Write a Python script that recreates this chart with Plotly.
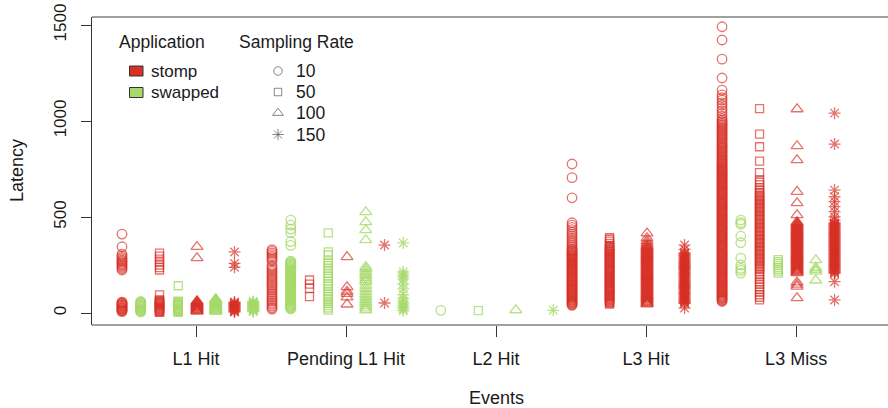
import plotly.graph_objects as go

# ---------------- data (latency values) ----------------
EVENTS = ["L1 Hit", "Pending L1 Hit", "L2 Hit", "L3 Hit", "L3 Miss"]
APPS = ["stomp", "swapped"]
RATES = [10, 50, 100, 150]

# each list: values for sampling rate 10, 50, 100, 150
L1_STOMP = [
    [411, 345, 307, 298, 290, 283, 276, 270, 264, 257, 251, 245, 238, 231, 224,
     57, 54, 51, 47, 44, 41, 37, 34, 31, 27, 24, 21, 17, 14, 11, 7],
    [312, 296, 281, 265, 250, 236, 224, 94, 68, 65, 62, 58, 55, 51, 48, 44, 41, 37,
     34, 30, 27, 23, 20, 16, 13, 9, 6, 3],
    [345, 286, 62, 59, 55, 52, 48, 45, 41, 38, 34, 31, 27, 24, 20, 17, 13, 10, 8],
    [318, 258, 238, 57, 54, 50, 47, 43, 40, 36, 33, 29, 26, 22, 19, 15, 12, 8, 5],
]
L1_SWAPPED = [
    [60, 57, 53, 50, 46, 43, 39, 36, 32, 29, 25, 22, 18, 15, 11, 8, 6],
    [142, 62, 59, 55, 52, 48, 45, 41, 38, 34, 31, 27, 24, 20, 17, 13, 10, 7, 4],
    [73, 70, 66, 63, 59, 56, 52, 49, 45, 42, 38, 35, 31, 28, 24, 21, 17, 14, 10, 7],
    [60, 57, 53, 50, 46, 43, 39, 36, 32, 29, 25, 22, 18, 15, 11, 7],
]
PEND_STOMP = [
    [330, 322, 313, 305, 296, 288, 279, 270, 247, 238, 228, 219, 210, 200, 190, 181,
     172, 163, 154, 145, 136, 127, 118, 108, 99, 90, 81, 72, 63, 54, 45, 36, 27, 20],
    [172, 150, 128, 85],
    [292, 135, 112, 100, 82, 45],
    [354, 52],
]
PEND_SWAPPED = [
    [484, 458, 437, 418, 372, 352, 270, 266, 261, 257, 253, 249, 245, 241, 237, 232,
     228, 224, 220, 216, 212, 207, 203, 199, 195, 191, 187, 183, 178, 174, 170, 166,
     162, 158, 153, 149, 145, 141, 137, 133, 129, 124, 120, 116, 112, 108, 104, 99,
     95, 91, 87, 83, 79, 75, 70, 66, 62, 58, 54, 50, 45, 41, 37, 33, 29, 25, 21],
    [417, 318, 302, 272, 258, 246, 233, 221, 206, 192, 180, 166, 152, 139, 126, 112,
     99, 86, 73, 61, 49, 38, 26, 15],
    [526, 474, 432, 380, 240, 230, 218, 206, 196, 184, 172, 161, 143, 127, 112, 97,
     83, 70, 58, 47, 36, 25, 15],
    [365, 214, 202, 190, 176, 152, 126, 96, 76, 63, 51, 41, 31, 21, 12],
]
L2_STOMP = [[], [], [], []]
L2_SWAPPED = [[14], [12], [15], [14]]
L3H_STOMP = [
    [776, 705, 600, 470, 458, 446, 434, 422, 411, 400, 390, 380, 370, 361, 352, 343,
     334, 330, 325, 321, 317, 312, 308, 303, 299, 295, 290, 286, 281, 277, 273, 268,
     264, 259, 255, 251, 246, 242, 237, 233, 229, 224, 220, 215, 211, 207, 202, 198,
     193, 189, 185, 180, 176, 171, 167, 163, 158, 154, 149, 145, 141, 136, 132, 127,
     123, 119, 114, 110, 105, 101, 97, 92, 88, 83, 79, 75, 70, 66, 61, 57, 53, 48,
     44, 40],
    [392, 384, 374, 363, 352, 348, 343, 339, 334, 330, 325, 321, 316, 312, 307, 303,
     298, 294, 289, 285, 280, 276, 271, 267, 262, 258, 253, 249, 244, 240, 235, 231,
     226, 222, 217, 213, 208, 204, 199, 195, 190, 186, 181, 177, 172, 168, 163, 159,
     154, 150, 145, 141, 136, 132, 127, 123, 118, 114, 109, 105, 100, 96, 91, 87, 82,
     78, 73, 69, 64, 60, 55, 51, 47],
    [415, 390, 376, 366, 357, 349, 345, 340, 336, 331, 327, 322, 318, 313, 309, 304,
     300, 295, 291, 286, 282, 277, 273, 268, 264, 259, 255, 250, 246, 241, 237, 232,
     228, 223, 219, 214, 210, 205, 201, 196, 192, 187, 183, 178, 174, 169, 165, 160,
     156, 151, 147, 142, 138, 133, 129, 124, 120, 115, 111, 106, 102, 97, 93, 88, 84,
     79, 75, 70, 66, 61, 57, 52, 48, 46],
    [354, 331, 313, 309, 304, 300, 295, 291, 286, 282, 277, 273, 268, 264, 259, 255,
     250, 246, 241, 237, 232, 228, 223, 219, 214, 210, 205, 201, 196, 192, 187, 183,
     178, 174, 169, 165, 160, 156, 151, 147, 142, 138, 133, 129, 124, 120, 115, 111,
     106, 102, 97, 93, 88, 84, 79, 75, 70, 66, 61, 57, 52, 50, 26],
]
L3H_SWAPPED = [[], [], [], []]
L3M_STOMP = [
    [1491, 1422, 1322, 1224, 1161, 1136, 1121, 1109, 1094, 1082, 1066, 1053, 1039,
     1025, 1012, 1003, 997, 990, 984, 977, 971, 964, 958, 951, 945, 938, 931, 925,
     919, 912, 906, 899, 893, 886, 880, 874, 868, 862, 857, 851, 845, 839, 833, 827,
     821, 815, 809, 803, 798, 792, 787, 781, 776, 771, 766, 760, 755, 751, 746, 741,
     737, 732, 727, 723, 718, 713, 709, 704, 699, 695, 690, 685, 681, 676, 671, 667,
     662, 657, 653, 648, 643, 639, 634, 629, 625, 620, 615, 611, 606, 601, 597, 592,
     587, 583, 578, 573, 569, 564, 559, 555, 550, 545, 541, 536, 531, 527, 522, 517,
     513, 508, 503, 499, 494, 489, 485, 480, 475, 471, 466, 461, 457, 452, 447, 443,
     438, 433, 429, 424, 419, 415, 410, 405, 401, 396, 391, 387, 382, 377, 373, 368,
     363, 359, 354, 349, 345, 340, 335, 331, 326, 321, 317, 312, 307, 303, 298, 293,
     289, 284, 279, 275, 270, 265, 261, 256, 251, 247, 242, 237, 233, 228, 223, 219,
     214, 209, 205, 200, 195, 191, 186, 181, 177, 172, 167, 163, 158, 153, 149, 144,
     139, 135, 130, 125, 121, 116, 111, 107, 102, 97, 93, 88, 83, 79, 74, 69, 65, 60],
    [1064, 932, 866, 791, 731, 695, 681, 668, 652, 640, 628, 620, 613, 606, 599, 592,
     585, 578, 571, 564, 557, 550, 543, 536, 529, 522, 515, 508, 501, 494, 487, 480,
     473, 466, 459, 452, 445, 438, 431, 424, 417, 410, 403, 396, 389, 382, 375, 368,
     361, 354, 347, 340, 333, 326, 319, 312, 305, 298, 291, 284, 277, 270, 263, 256,
     249, 242, 235, 228, 214, 201, 188, 175, 162, 150, 136, 122, 109, 95, 82, 68],
    [1062, 870, 797, 632, 573, 510, 474, 470, 466, 461, 457, 453, 449, 445, 441, 436,
     432, 428, 424, 420, 416, 411, 407, 403, 399, 395, 391, 386, 382, 378, 374, 370,
     366, 361, 357, 353, 349, 345, 341, 336, 332, 328, 324, 320, 316, 311, 307, 303,
     299, 295, 291, 286, 282, 278, 274, 270, 266, 261, 257, 253, 249, 245, 241, 236,
     232, 228, 224, 220, 216, 212, 208, 160, 148, 138, 78],
    [1041, 880, 640, 606, 580, 554, 528, 500, 484, 470, 466, 462, 458, 454, 450, 446,
     442, 438, 434, 430, 426, 422, 418, 414, 410, 406, 402, 398, 394, 390, 386, 382,
     378, 374, 370, 366, 362, 358, 354, 350, 346, 342, 338, 334, 330, 326, 322, 318,
     314, 310, 306, 302, 298, 294, 290, 286, 282, 278, 274, 270, 266, 262, 258, 254,
     250, 246, 242, 238, 234, 230, 226, 222, 218, 214, 210, 206, 163, 68],
]
L3M_SWAPPED = [
    [484, 470, 462, 400, 366, 286, 250, 232, 222, 208],
    [278, 268, 258, 248, 238, 228, 218, 208],
    [276, 236, 226, 216, 170],
    [],
]

DATA = {
    ("L1 Hit", "stomp"): L1_STOMP, ("L1 Hit", "swapped"): L1_SWAPPED,
    ("Pending L1 Hit", "stomp"): PEND_STOMP, ("Pending L1 Hit", "swapped"): PEND_SWAPPED,
    ("L2 Hit", "stomp"): L2_STOMP, ("L2 Hit", "swapped"): L2_SWAPPED,
    ("L3 Hit", "stomp"): L3H_STOMP, ("L3 Hit", "swapped"): L3H_SWAPPED,
    ("L3 Miss", "stomp"): L3M_STOMP, ("L3 Miss", "swapped"): L3M_SWAPPED,
}

# ---------------- styles ----------------
APP_COLOR = {"stomp": "rgba(215,48,39,0.68)", "swapped": "rgba(166,217,106,0.8)"}
APP_SOLID = {"stomp": "#d73027", "swapped": "#a6d96a"}
RATE_SYMBOL = {10: "circle-open", 50: "square-open", 100: "triangle-up-open", 150: "asterisk-open"}
RATE_SIZE = {10: 9.5, 50: 8, 100: 10.5, 150: 10}
FONT = "Liberation Sans, Arial, sans-serif"
TXT = "#1a1a1a"

W, H = 888, 408
L, R, T, B = 92, 0, 17, 83

fig = go.Figure()
n_sub = len(APPS) * len(RATES)
for ei, ev in enumerate(EVENTS):
    for ri, rate in enumerate(RATES):
        for ai, app in enumerate(APPS):
            vals = DATA[(ev, app)][ri]
            slot = ei * n_sub + ri * len(APPS) + ai
            fig.add_trace(go.Scatter(
                x=[slot] * len(vals), y=vals, mode="markers",
                marker=dict(symbol=RATE_SYMBOL[rate], size=RATE_SIZE[rate],
                            color=APP_COLOR[app],
                            line=dict(width=1.3, color=APP_COLOR[app])),
                showlegend=False, hoverinfo="skip"))

tickpos = [ei * n_sub + 3.95 for ei in range(len(EVENTS))]

fig.update_layout(
    width=W, height=H, margin=dict(l=L, r=R, t=T, b=B),
    paper_bgcolor="white", plot_bgcolor="white",
    font=dict(family=FONT, size=18, color=TXT),
    xaxis=dict(range=[-1.6, 40.85], tickvals=tickpos, ticktext=EVENTS,
               showgrid=False, zeroline=False, showline=False,
               ticks="outside", ticklen=11, tickcolor="#333", tickwidth=1,
               ticklabelstandoff=6, tickfont=dict(size=18, color=TXT)),
    yaxis=dict(range=[-62.5, 1541.7], tickvals=[0, 500, 1000, 1500],
               showgrid=False, zeroline=False, showline=True, linecolor="#333",
               linewidth=1, ticks="outside", ticklen=10, tickcolor="#333",
               tickangle=-90, ticklabelstandoff=8, tickfont=dict(size=17, color=TXT)),
    # overlay pixel-coordinate axes for the hand-drawn legend
    xaxis2=dict(range=[L, W - R], overlaying="x", visible=False, fixedrange=True),
    yaxis2=dict(range=[H - B, T], overlaying="y", visible=False, fixedrange=True),
)

# box (top and bottom lines gray, extends past right edge)
fig.add_shape(type="line", xref="paper", yref="paper", x0=0, x1=1.02, y0=1, y1=1,
              line=dict(color="#808080", width=1.6))
fig.add_shape(type="line", xref="paper", yref="paper", x0=0, x1=1.02, y0=0, y1=0,
              line=dict(color="#808080", width=1.6))

# axis titles
fig.add_annotation(text="Events", xref="paper", yref="paper", x=(497 - L) / (W - L - R),
                   y=-(398 - (H - B)) / (H - B - T), showarrow=False,
                   font=dict(size=18, color=TXT), xanchor="center", yanchor="middle")
fig.add_annotation(text="Latency", xref="paper", yref="paper", x=-(L - 17) / (W - L - R),
                   y=0.5, textangle=-90, showarrow=False,
                   font=dict(size=18, color=TXT), xanchor="center", yanchor="middle")

# ---------------- legend ----------------
def ann(text, x, y, size=17):
    fig.add_annotation(text=text, xref="x2", yref="y2", x=x, y=y, showarrow=False,
                       xanchor="left", yanchor="middle", font=dict(size=size, color=TXT))

ann("Application", 117, 42, 17.5)
ann("Sampling Rate", 237, 42, 17.5)
for i, app in enumerate(APPS):
    yc = 71 + i * 21.5
    fig.add_shape(type="rect", xref="x2", yref="y2", x0=129.5, x1=143, y0=yc - 5, y1=yc + 5,
                  fillcolor=APP_SOLID[app], line=dict(color="#333", width=1))
    ann(app, 149, yc, 17)
leg_y = [71, 92, 113, 134.5]
fig.add_trace(go.Scatter(
    x=[278] * len(RATES), y=leg_y, xaxis="x2", yaxis="y2", mode="markers",
    marker=dict(symbol=[RATE_SYMBOL[r] for r in RATES], size=[8.5, 7.5, 9.5, 9.5],
                color="#555", line=dict(width=1, color="#555")),
    showlegend=False, hoverinfo="skip"))
for r, yv in zip(RATES, leg_y):
    ann(str(r), 294, yv, 17.5)

fig.write_html("out.html", config={"displayModeBar": False},
               post_script="document.body.style.margin='0px';")
